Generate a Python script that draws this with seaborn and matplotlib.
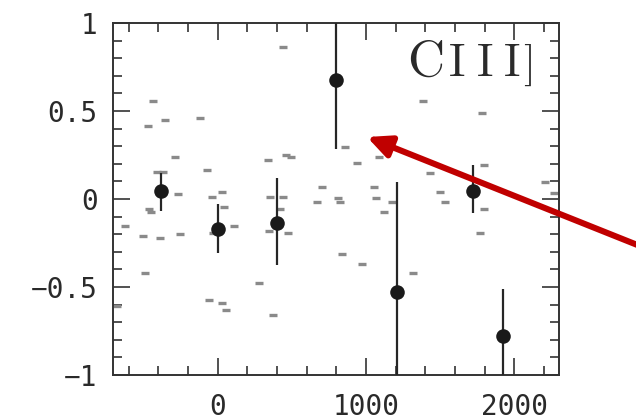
import matplotlib
matplotlib.use("Agg")
import matplotlib.pyplot as plt
import seaborn as sns
import numpy as np
import pandas as pd
from matplotlib.ticker import MultipleLocator, FixedLocator, FixedFormatter

# ---- data ----
# main measurements (black points with vertical error bars)
pt_x = [-380, 0, 400, 800, 1210, 1720, 1920]
pt_y = [0.047, -0.172, -0.135, 0.676, -0.527, 0.047, -0.778]
pt_lo = [-0.068, -0.309, -0.375, 0.282, -1.2, -0.081, -1.2]
pt_hi = [0.149, -0.030, 0.118, 1.2, 0.095, 0.193, -0.51]

# individual grey dashes
dash_x = [-438, -469, -353, -122, -286, -73, -410, -365, -268, -39, 28,
          342, 459, 494, 701, 671, 353, 440, 420, 348, 476, -465, -449,
          -622, -503, -387, -254, 44, 111, 810, 822, 1068, 1175, 1120,
          839, 972, 277, 373, -30, -488, -55, 28, 57, -676, 440, 855,
          936, 1086, 1052, 1434, 1797, 2207, 2263, 1501, 1535, 1797,
          1765, 1317, 1384, 1783]
dash_y = [0.557, 0.416, 0.447, 0.460, 0.237, 0.166, 0.151, 0.151, 0.027,
          0.013, 0.040, 0.222, 0.250, 0.237, 0.070, -0.015, 0.013, 0.013,
          -0.059, -0.182, -0.196, -0.059, -0.072, -0.155, -0.212, -0.223,
          -0.197, -0.044, -0.155, 0.006, -0.015, 0.007, -0.015, -0.072,
          -0.311, -0.368, -0.477, -0.659, -0.193, -0.422, -0.576, -0.589,
          -0.631, -0.608, 0.865, 0.294, 0.206, 0.237, 0.070, 0.149, 0.193,
          0.095, 0.032, 0.041, -0.015, -0.059, -0.196, -0.422, 0.559, 0.487]

xtick_vals = [0, 1000, 2000]
xtick_labels = ["0", "1000", "2000"]
ytick_vals = [-1, -0.5, 0, 0.5, 1]
ytick_labels = ["\u22121", "\u22120.5", "0", "0.5", "1"]
label_chars = ["C", "I", "I", "I", "]"]

# ---- figure ----
sns.set_style("ticks")
plt.rcParams["font.family"] = ["DejaVu Sans Mono", "DejaVu Sans"]

W, H = 636, 420
fig = plt.figure(figsize=(W / 100, H / 100), dpi=100)
ax = fig.add_axes([113 / W, 45 / H, 446 / W, 352 / H])

dash_df = pd.DataFrame({"x": dash_x, "y": dash_y})
sns.scatterplot(data=dash_df, x="x", y="y", marker="_", s=30,
                color="#8a8a8a", linewidth=2.4, ax=ax, zorder=2)

pts_df = pd.DataFrame({"x": pt_x, "y": pt_y})
yerr = [np.array(pt_y) - np.array(pt_lo), np.array(pt_hi) - np.array(pt_y)]
ax.errorbar(pt_x, pt_y, yerr=yerr, fmt="none", ecolor="#262626",
            elinewidth=1.6, capsize=0, zorder=3)
sns.scatterplot(data=pts_df, x="x", y="y", marker="o", s=110,
                color="#1a1a1a", edgecolor="#1a1a1a", linewidth=0, ax=ax,
                zorder=4)

ax.set_xlim(-705, 2300)
ax.set_ylim(-1, 1)
ax.set_xlabel("")
ax.set_ylabel("")

ax.xaxis.set_major_locator(FixedLocator(xtick_vals))
ax.xaxis.set_major_formatter(FixedFormatter(xtick_labels))
ax.xaxis.set_minor_locator(MultipleLocator(200))
ax.yaxis.set_major_locator(FixedLocator(ytick_vals))
ax.yaxis.set_major_formatter(FixedFormatter(ytick_labels))
ax.yaxis.set_minor_locator(MultipleLocator(0.1))

for s in ax.spines.values():
    s.set_visible(True)
    s.set_linewidth(1.4)
    s.set_color("#333333")

ax.tick_params(which="both", direction="in", top=True, right=True,
               color="#333333", width=1.2)
ax.tick_params(which="major", length=12.5)
ax.tick_params(which="minor", length=6.5)
ax.tick_params(axis="y", which="major", labelsize=20, pad=11, labelcolor="#2a2a2a")
ax.tick_params(axis="x", which="major", labelsize=20, pad=13, labelcolor="#2a2a2a")

# "CIII]" label, small caps style
char_cx = [426, 457, 485, 512, 529]
char_fs = [37, 33, 33, 33, 31]
for ch, cx, fs in zip(label_chars, char_cx, char_fs):
    ax.text((cx - 113) / 446, (375 - 75.5) / 352, ch, transform=ax.transAxes,
            ha="center", va="baseline", fontsize=fs, family="cmr10",
            color="#2a2a2a", zorder=5)

# red arrow
ax.annotate("", xy=(367, H - 137), xycoords="figure pixels",
            xytext=(690, H - 266), textcoords="figure pixels",
            annotation_clip=False,
            arrowprops=dict(arrowstyle="-|>,head_length=0.7,head_width=0.33",
                            mutation_scale=20, lw=4.4, color="#c00000",
                            shrinkA=0, shrinkB=0))

fig.savefig("out.png", dpi=100)
